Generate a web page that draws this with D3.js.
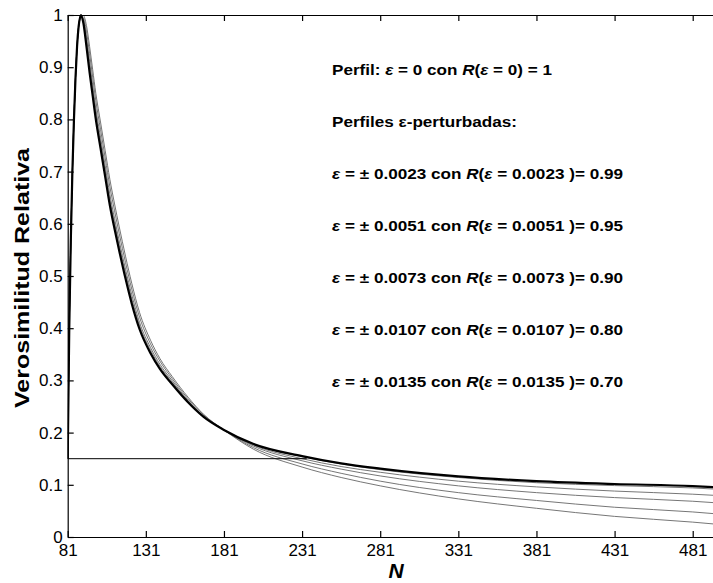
<!DOCTYPE html>
<html>
<head>
<meta charset="utf-8">
<script src="https://cdn.jsdelivr.net/npm/d3@7"></script>
<style>
  body { margin: 0; background: #fff; }
  svg { display: block; font-family: "Liberation Sans", Arial, sans-serif; }
</style>
</head>
<body>
<svg id="chart" width="713" height="583"></svg>
<script>
// valores de N
const nValues = [81, 82, 83, 84, 85, 86, 87, 88, 89.5, 91, 93, 95, 97, 99, 102, 105, 108, 111, 114, 118,
                 122, 127, 134, 140, 148, 158, 168, 181, 200, 231, 256, 281, 331, 381, 431, 481, 500];

// perfil (eps = 0)
const perfil = [0.15, 0.40, 0.57, 0.70, 0.80, 0.88, 0.94, 0.978, 1.0, 0.985, 0.94, 0.89, 0.845, 0.80, 0.745, 0.69, 0.635, 0.59, 0.548, 0.495,
                0.447, 0.398, 0.352, 0.322, 0.292, 0.258, 0.23, 0.205, 0.178, 0.155, 0.141, 0.131, 0.116, 0.107, 0.1015, 0.0975, 0.0945];

// perfiles eps-perturbados
const pert0023 = [0.15, 0.40, 0.57, 0.70, 0.80, 0.88, 0.94, 0.978, 1.0, 0.986, 0.942, 0.893, 0.848, 0.803, 0.748, 0.693, 0.638, 0.592, 0.550, 0.497,
                  0.449, 0.400, 0.353, 0.323, 0.293, 0.259, 0.230, 0.205, 0.178, 0.154, 0.140, 0.129, 0.114, 0.104, 0.0985, 0.094, 0.091];
const pert0051 = [0.15, 0.40, 0.57, 0.70, 0.80, 0.88, 0.94, 0.978, 0.999, 0.988, 0.949, 0.901, 0.856, 0.811, 0.756, 0.701, 0.646, 0.601, 0.558, 0.505,
                  0.456, 0.405, 0.358, 0.327, 0.296, 0.260, 0.231, 0.205, 0.176, 0.150, 0.135, 0.124, 0.107, 0.096, 0.088, 0.082, 0.079];
const pert0073 = [0.15, 0.40, 0.57, 0.70, 0.80, 0.88, 0.94, 0.978, 0.998, 0.991, 0.957, 0.911, 0.866, 0.821, 0.766, 0.711, 0.656, 0.610, 0.567, 0.513,
                  0.464, 0.411, 0.363, 0.331, 0.299, 0.262, 0.232, 0.205, 0.174, 0.146, 0.130, 0.117, 0.098, 0.085, 0.0755, 0.0685, 0.0647];
const pert0107 = [0.15, 0.40, 0.57, 0.70, 0.80, 0.88, 0.94, 0.978, 0.996, 0.995, 0.969, 0.926, 0.881, 0.836, 0.781, 0.726, 0.671, 0.625, 0.581, 0.526,
                  0.475, 0.421, 0.370, 0.337, 0.303, 0.265, 0.234, 0.205, 0.171, 0.140, 0.122, 0.107, 0.085, 0.070, 0.057, 0.048, 0.0434];
const pert0135 = [0.15, 0.40, 0.57, 0.70, 0.80, 0.88, 0.94, 0.978, 0.995, 0.999, 0.980, 0.940, 0.895, 0.850, 0.795, 0.740, 0.685, 0.638, 0.594, 0.538,
                  0.486, 0.430, 0.377, 0.342, 0.307, 0.268, 0.235, 0.205, 0.168, 0.134, 0.114, 0.098, 0.073, 0.055, 0.0395, 0.0285, 0.0235];

// linea de corte R = 0.15
const corteR = 0.15;
const corteN = [81, 234];

const xTicks = [81, 131, 181, 231, 281, 331, 381, 431, 481];
const yTicks = [0, 0.1, 0.2, 0.3, 0.4, 0.5, 0.6, 0.7, 0.8, 0.9, 1];
const yTickLabels = ["0", "0.1", "0.2", "0.3", "0.4", "0.5", "0.6", "0.7", "0.8", "0.9", "1"];

const epsValores = ["0.0023", "0.0051", "0.0073", "0.0107", "0.0135"];
const rValores = ["0.99", "0.95", "0.90", "0.80", "0.70"];

function draw() {
    const svg = d3.select("#chart");
    svg.selectAll("*").remove();

    const left = 67.7, right = 722.4, top = 15, bottom = 537;

    // escalas
    const x = d3.scaleLinear().domain([81, 500]).range([left, right]);
    const y = d3.scaleLinear().domain([0, 1]).range([bottom, top]);

    svg.append("defs").append("clipPath").attr("id", "area")
        .append("rect").attr("x", left).attr("y", top - 2).attr("width", right - left).attr("height", bottom - top + 2);

    // curvas
    const line = d3.line()
        .x((d, i) => x(nValues[i]))
        .y(d => y(d))
        .curve(d3.curveMonotoneX);

    const g = svg.append("g").attr("clip-path", "url(#area)");

    [pert0135, pert0107, pert0073, pert0051, pert0023].forEach(serie => {
        g.append("path")
            .datum(serie)
            .attr("fill", "none")
            .attr("stroke", "#666")
            .attr("stroke-width", 0.9)
            .attr("d", line);
    });

    g.append("path")
        .datum(perfil)
        .attr("fill", "none")
        .attr("stroke", "#000")
        .attr("stroke-width", 2.2)
        .attr("d", line);

    g.append("line")
        .attr("x1", x(corteN[0])).attr("x2", x(corteN[1]))
        .attr("y1", y(corteR)).attr("y2", y(corteR))
        .attr("stroke", "#000").attr("stroke-width", 1);

    // ejes
    const axisStyle = sel => {
        sel.select(".domain").attr("stroke", "#000").attr("stroke-width", 1.2);
        sel.selectAll(".tick line").attr("stroke", "#000").attr("stroke-width", 1.2);
        sel.selectAll("text").attr("fill", "#000").attr("font-size", 17).attr("font-family", "Liberation Sans, Arial, sans-serif");
    };

    svg.append("g")
        .attr("transform", `translate(0,${bottom})`)
        .call(d3.axisBottom(x).tickValues(xTicks).tickSizeInner(-6).tickSizeOuter(0).tickPadding(7).tickFormat(d3.format("d")))
        .call(axisStyle);

    svg.append("g")
        .attr("transform", `translate(0,${top})`)
        .call(d3.axisTop(x).tickValues(xTicks).tickSizeInner(-6).tickSizeOuter(0).tickFormat(""))
        .call(axisStyle);

    svg.append("g")
        .attr("transform", `translate(${left},0)`)
        .call(d3.axisLeft(y).tickValues(yTicks).tickSizeInner(-6).tickSizeOuter(0).tickPadding(5)
            .tickFormat((d, i) => yTickLabels[i]))
        .call(axisStyle);

    svg.append("g")
        .attr("transform", `translate(${right},0)`)
        .call(d3.axisRight(y).tickValues(yTicks).tickSizeInner(-6).tickSizeOuter(0).tickFormat(""))
        .call(axisStyle);

    // titulos de ejes
    svg.append("text")
        .attr("transform", `translate(29,278) rotate(-90)`)
        .attr("text-anchor", "middle")
        .attr("font-size", 21)
        .attr("font-weight", "bold")
        .attr("textLength", 260)
        .attr("lengthAdjust", "spacingAndGlyphs")
        .text("Verosimilitud Relativa");

    svg.append("text")
        .attr("x", 396).attr("y", 578)
        .attr("text-anchor", "middle")
        .attr("font-size", 21)
        .attr("font-weight", "bold")
        .attr("font-style", "italic")
        .text("N");

    // leyenda de texto
    const lx = 332, fs = 14.5;
    const leg = svg.append("g").attr("font-size", fs).attr("font-weight", "bold").attr("fill", "#000");

    const t0 = leg.append("text").attr("x", lx).attr("y", 75)
        .attr("textLength", 220).attr("lengthAdjust", "spacingAndGlyphs");
    t0.append("tspan").text("Perfil: ");
    t0.append("tspan").attr("font-style", "italic").text("ε");
    t0.append("tspan").text(" = 0 con ");
    t0.append("tspan").attr("font-style", "italic").text("R");
    t0.append("tspan").text("(");
    t0.append("tspan").attr("font-style", "italic").text("ε");
    t0.append("tspan").text(" = 0) = 1");

    leg.append("text").attr("x", lx).attr("y", 127)
        .attr("textLength", 185).attr("lengthAdjust", "spacingAndGlyphs")
        .text("Perfiles ε-perturbadas:");

    epsValores.forEach((e, i) => {
        const t = leg.append("text").attr("x", lx).attr("y", 179 + i * 52)
            .attr("textLength", 291).attr("lengthAdjust", "spacingAndGlyphs");
        t.append("tspan").attr("font-style", "italic").text("ε");
        t.append("tspan").text(" = ± " + e + " con ");
        t.append("tspan").attr("font-style", "italic").text("R");
        t.append("tspan").text("(");
        t.append("tspan").attr("font-style", "italic").text("ε");
        t.append("tspan").text(" = " + e + " )= " + rValores[i]);
    });
}

draw();
</script>
</body>
</html>
